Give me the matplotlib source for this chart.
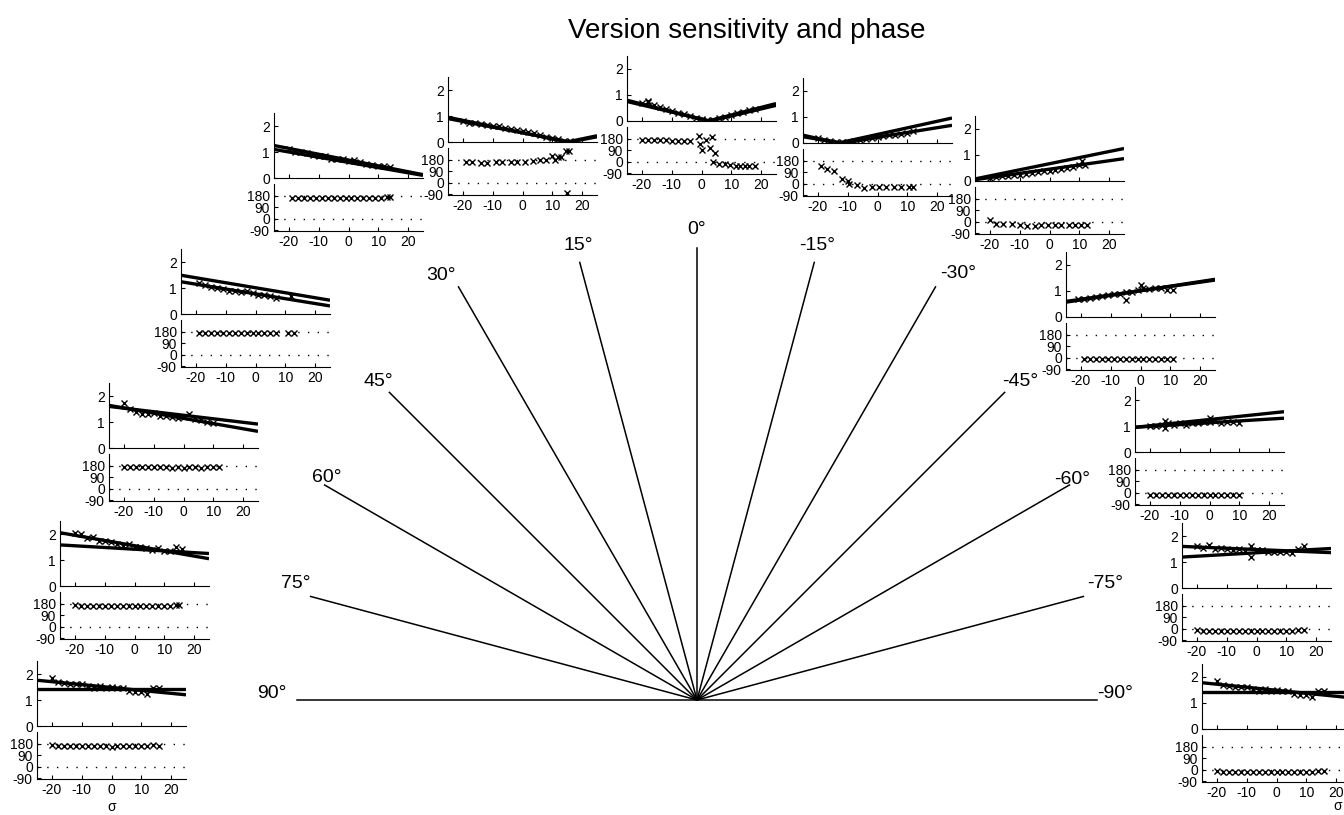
import numpy as np
import matplotlib
matplotlib.use("Agg")
import matplotlib.pyplot as plt

plt.rcParams['font.family'] = ['Liberation Sans', 'DejaVu Sans']
plt.rcParams['axes.unicode_minus'] = False

# ángulos de los paneles (grados)
angulos = [90, 75, 60, 45, 30, 15, 0, -15, -30, -45, -60, -75, -90]

# ajustes lineales de la ganancia: valor con signo en sigma=-25 y sigma=25 (dos ajustes por panel)
ajuste_a = [(1.76, 1.20), (2.05, 1.05), (1.64, 0.64), (1.49, 0.53), (1.25, 0.13),
            (0.95, -0.24), (0.80, -0.67), (-0.30, 0.96), (0.08, 1.25), (0.57, 1.45),
            (0.95, 1.55), (1.60, 1.36), (1.78, 1.20)]
ajuste_b = [(1.42, 1.42), (1.58, 1.25), (1.60, 0.92), (1.24, 0.31), (1.10, 0.10),
            (0.90, -0.20), (0.75, -0.60), (-0.24, 0.68), (0.05, 0.86), (0.60, 1.42),
            (0.95, 1.30), (1.19, 1.52), (1.44, 1.44)]

# puntos de ganancia (sigma, ganancia)
sig_gan = [
    [-20, -18, -16, -14, -12, -10, -8, -6, -4, -2, 0, 2, 4, 6, 8, 10, 12, 14, 16],
    [-20, -18, -16, -14, -12, -10, -8, -6, -4, -2, 0, 2, 4, 6, 8, 10, 12, 14, 16],
    [-20, -18, -16, -14, -12, -10, -8, -6, -4, -2, 0, 2, 4, 6, 8, 10],
    [-19, -17, -15, -13, -11, -9, -7, -5, -3, -1, 1, 3, 5, 7, 12],
    [-20, -18, -16, -14, -12, -10, -8, -6, -4, -2, 0, 2, 4, 6, 8, 10, 12, 14],
    [-20, -18, -16, -14, -12, -10, -8, -6, -4, -2, 0, 2, 4, 6, 8, 10, 12, 14, 16],
    [-20, -18, -18, -16, -14, -12, -10, -8, -6, -4, -2, 0, 2, 4, 6, 8, 10, 12, 14, 16, 18],
    [-20, -18, -16, -14, -12, -10, -8, -6, -4, -2, 0, 2, 4, 6, 8, 10, 12],
    [-20, -18, -16, -14, -12, -10, -8, -6, -4, -2, 0, 2, 4, 6, 8, 10, 11, 12],
    [-21, -19, -17, -15, -13, -11, -9, -7, -5, -5, -3, -1, 0, 1, 3, 5, 7, 9, 11],
    [-20, -18, -16, -15, -15, -14, -12, -10, -8, -6, -4, -2, 0, 0, 2, 4, 6, 8, 10],
    [-20, -18, -16, -14, -12, -10, -8, -6, -4, -2, -2, 0, 2, 4, 6, 8, 10, 12, 14, 16],
    [-20, -18, -16, -14, -12, -10, -8, -6, -4, -2, 0, 2, 4, 6, 8, 10, 12, 14, 16],
]
ganancia = [
    [1.85, 1.70, 1.65, 1.60, 1.62, 1.62, 1.55, 1.45, 1.55, 1.45, 1.50, 1.45, 1.45, 1.35, 1.30, 1.32, 1.25, 1.45, 1.48],
    [2.05, 2.00, 1.85, 1.90, 1.75, 1.75, 1.70, 1.60, 1.55, 1.60, 1.50, 1.50, 1.45, 1.40, 1.45, 1.35, 1.35, 1.50, 1.42],
    [1.75, 1.50, 1.40, 1.30, 1.32, 1.35, 1.25, 1.22, 1.20, 1.15, 1.20, 1.30, 1.10, 1.08, 1.00, 0.95],
    [1.20, 1.10, 1.05, 1.00, 0.95, 0.90, 0.88, 0.85, 0.90, 0.80, 0.75, 0.72, 0.70, 0.60, 0.70],
    [1.12, 1.00, 1.00, 0.98, 0.90, 0.85, 0.85, 0.75, 0.75, 0.72, 0.65, 0.68, 0.60, 0.55, 0.50, 0.45, 0.45, 0.42],
    [0.80, 0.75, 0.72, 0.70, 0.65, 0.62, 0.60, 0.55, 0.50, 0.45, 0.42, 0.38, 0.33, 0.28, 0.20, 0.15, 0.10, 0.05, 0.05],
    [0.70, 0.72, 0.78, 0.60, 0.52, 0.45, 0.40, 0.32, 0.28, 0.20, 0.12, 0.06, 0.02, 0.05, 0.10, 0.15, 0.25, 0.30, 0.35, 0.42, 0.48],
    [0.18, 0.12, 0.07, 0.03, 0.02, 0.05, 0.08, 0.12, 0.15, 0.20, 0.22, 0.27, 0.30, 0.32, 0.35, 0.40, 0.45],
    [0.12, 0.15, 0.18, 0.20, 0.22, 0.25, 0.28, 0.30, 0.35, 0.38, 0.40, 0.42, 0.45, 0.50, 0.55, 0.60, 0.78, 0.62],
    [0.68, 0.70, 0.72, 0.78, 0.80, 0.85, 0.88, 0.90, 0.95, 0.65, 0.98, 1.05, 1.25, 1.10, 1.08, 1.10, 1.12, 1.05, 1.05],
    [1.00, 1.00, 1.05, 1.20, 0.92, 1.10, 1.05, 1.10, 1.05, 1.10, 1.12, 1.15, 1.32, 1.15, 1.20, 1.12, 1.15, 1.15, 1.12],
    [1.60, 1.55, 1.65, 1.50, 1.55, 1.50, 1.45, 1.50, 1.42, 1.60, 1.20, 1.45, 1.45, 1.40, 1.40, 1.38, 1.40, 1.35, 1.50, 1.60],
    [1.85, 1.70, 1.65, 1.60, 1.62, 1.62, 1.55, 1.45, 1.55, 1.45, 1.50, 1.45, 1.45, 1.35, 1.30, 1.32, 1.25, 1.45, 1.48],
]

# puntos de fase (sigma, fase en grados)
sig_fase = [
    [-20, -18, -16, -14, -12, -10, -8, -6, -4, -2, 0, 2, 4, 6, 8, 10, 12, 14, 16],
    [-20, -18, -16, -14, -12, -10, -8, -6, -4, -2, 0, 2, 4, 6, 8, 10, 12, 14, 15],
    [-20, -18, -16, -14, -12, -10, -8, -6, -4, -2, 0, 2, 4, 6, 8, 10, 12],
    [-19, -17, -15, -13, -11, -9, -7, -5, -3, -1, 1, 3, 5, 7, 11, 13],
    [-19, -17, -15, -13, -11, -9, -7, -5, -3, -1, 1, 3, 5, 7, 9, 11, 13, 14],
    [-19, -17, -14, -12, -9, -7, -4, -2, 1, 3.5, 6, 8, 10, 11, 12, 13, 14.5, 15.5, 15],
    [-20, -18, -16, -14, -12, -10, -8, -6, -4, -1, -0.5, 0, 1.5, 3, 3.5, 4.5, 4, 6, 8, 9.5, 11.5, 13, 14.5, 16, 18],
    [-19, -17, -14.5, -12, -10, -9.5, -7, -4.5, -2, 0.5, 3, 5.5, 8, 10.5, 12],
    [-20, -18, -15.5, -12.5, -10, -7.5, -5, -3, -0.5, 2, 4, 6.5, 8.5, 10.5, 12.5],
    [-19, -17, -15, -13, -11, -9, -7, -5, -3, -1, 1, 3, 5, 7, 9, 11],
    [-20, -18, -16, -14, -12, -10, -8, -6, -4, -2, 0, 2, 4, 6, 8, 10],
    [-20, -18, -16, -14, -12, -10, -8, -6, -4, -2, 0, 2, 4, 6, 8, 10, 12, 14, 16],
    [-20, -18, -16, -14, -12, -10, -8, -6, -4, -2, 0, 2, 4, 6, 8, 10, 12, 14, 16],
]
fase = [
    [168, 165, 163, 160, 162, 160, 158, 162, 160, 158, 150, 160, 162, 158, 160, 163, 162, 168, 165],
    [168, 165, 163, 165, 162, 163, 160, 162, 160, 163, 160, 162, 163, 160, 162, 163, 165, 168, 170],
    [168, 168, 166, 166, 167, 166, 166, 166, 165, 166, 165, 166, 166, 165, 166, 167, 168],
    [172, 172, 170, 172, 171, 172, 170, 172, 170, 171, 172, 170, 171, 172, 172, 170],
    [165, 163, 160, 158, 160, 158, 160, 158, 163, 160, 158, 160, 160, 162, 163, 165, 168, 170],
    [160, 160, 152, 150, 162, 158, 158, 158, 158, 172, 177, 177, 210, 180, 197, 197, 247, 247, -80],
    [170, 170, 170, 172, 168, 165, 165, 160, 160, 200, 135, 95, 170, 110, 195, 65, 0, -15, -20, -25, -35, -35, -30, -35, -35],
    [140, 118, 98, 40, 25, 0, -13, -30, -25, -25, -25, -25, -25, -25, -25],
    [12, -17, -17, -20, -22, -32, -30, -28, -28, -28, -28, -28, -25, -28, -28],
    [-8, -10, -8, -10, -8, -10, -8, -10, -8, -10, -8, -10, -8, -10, -8, -10],
    [-15, -17, -15, -18, -15, -17, -15, -18, -15, -17, -15, -18, -15, -17, -15, -18],
    [-10, -15, -15, -17, -15, -17, -15, -16, -15, -17, -15, -16, -15, -17, -15, -16, -15, -12, -12],
    [-12, -15, -15, -17, -15, -17, -15, -16, -15, -17, -20, -16, -15, -17, -15, -16, -15, -12, -12],
]

# posición de cada panel en píxeles: (izquierda, borde superior del eje de ganancia)
pos_panel = [(37, 661), (60, 521), (109, 383), (181, 249), (274, 113), (448, 77), (627, 56),
             (803, 78), (975, 116), (1066, 252), (1135, 387), (1182, 523), (1202, 664)]
# longitud de cada radio del abanico (px) y posición de su etiqueta
largo_radio = [400, 400, 430, 435, 477, 453, 452, 453, 477, 435, 430, 400, 400]
pos_etiqueta = [(272, 693), (296, 583), (327, 478), (378, 382), (441, 275), (578, 245), (697, 230),
                (817, 245), (958, 274), (1020, 382), (1072, 480), (1105, 583), (1115, 693)]

W, H = 1344, 815
ANCHO, ALTO_G, ALTO_F, HUECO = 149, 65, 47, 6
centro = (697, 700)

fig = plt.figure(figsize=(W / 100, H / 100), dpi=100)


def caja(x, y, w, h):
    return [x / W, 1 - (y + h) / H, w / W, h / H]


# abanico de radios
fondo = fig.add_axes([0, 0, 1, 1], zorder=0)
fondo.set_xlim(0, W)
fondo.set_ylim(H, 0)
fondo.set_axis_off()
for ang, L, (tx, ty) in zip(angulos, largo_radio, pos_etiqueta):
    r = np.deg2rad(ang)
    fondo.plot([centro[0], centro[0] - L * np.sin(r)], [centro[1], centro[1] - L * np.cos(r)],
               color='black', lw=1.1)
    fondo.text(tx, ty, f"{ang}°", ha='center', va='center', fontsize=14)

fondo.text(747, 31, "Version sensitivity and phase", ha='center', va='center', fontsize=20)

sig_linea = np.linspace(-25, 25, 201)


def estilo(ax):
    for lado in ('top', 'right'):
        ax.spines[lado].set_visible(False)
    ax.tick_params(direction='in', length=3, width=0.8, labelsize=10, pad=3)
    ax.set_xlim(-25, 25)
    ax.set_xticks([-20, -10, 0, 10, 20])


for i, ang in enumerate(angulos):
    x0, y0 = pos_panel[i]
    ax_g = fig.add_axes(caja(x0, y0, ANCHO, ALTO_G), zorder=2)
    ax_f = fig.add_axes(caja(x0, y0 + ALTO_G + HUECO, ANCHO, ALTO_F), zorder=2)
    for ax in (ax_g, ax_f):
        estilo(ax)

    # ganancia: dos ajustes lineales (en módulo) y los puntos medidos
    for a, b in (ajuste_a[i], ajuste_b[i]):
        g = a + (b - a) * (sig_linea + 25) / 50
        ax_g.plot(sig_linea, np.abs(g), color='black', lw=2.4, solid_capstyle='butt')
    ax_g.plot(sig_gan[i], ganancia[i], 'x', color='black', ms=4.5, mew=1.0)
    ax_g.set_ylim(0, 2.5)
    ax_g.set_yticks([0, 1, 2])
    ax_g.set_xticklabels([])

    # fase
    for nivel in (0, 180):
        ax_f.plot([-25, 25], [nivel, nivel], color='black', lw=1.0, ls=(0, (1, 6)))
    ax_f.plot(sig_fase[i], fase[i], 'x', color='black', ms=4.5, mew=1.0)
    ax_f.set_ylim(-95, 270)
    ax_f.set_yticks([-90, 0, 90, 180])

    if abs(ang) == 90:
        ax_f.set_xlabel('σ', fontsize=10, labelpad=2)
        if ang < 0:
            ax_f.xaxis.set_label_coords(0.91, -0.36)

fig.savefig('out.png', dpi=100)
